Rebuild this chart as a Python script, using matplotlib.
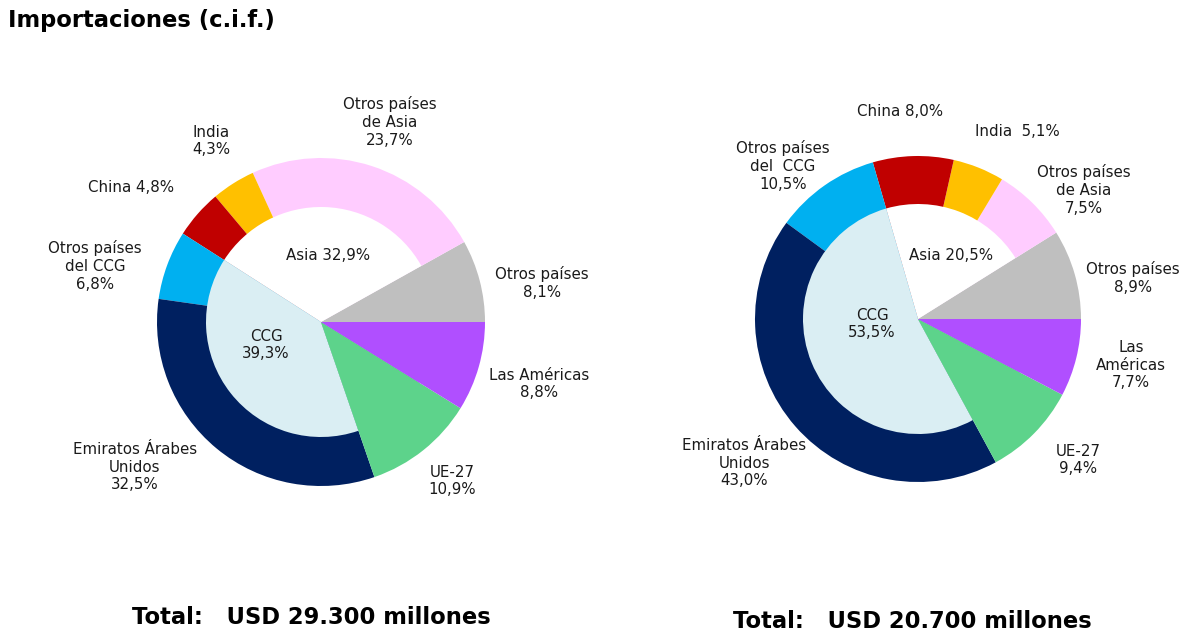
import matplotlib
matplotlib.use("Agg")
import matplotlib.pyplot as plt

# ---------------- data ----------------
categorias = ["Otros países", "Otros países de Asia", "India", "China",
              "Otros países del CCG", "Emiratos Árabes Unidos", "UE-27", "Las Américas"]
valores_izq = [8.1, 23.7, 4.3, 4.8, 6.8, 32.5, 10.9, 8.8]
valores_der = [8.9, 7.5, 5.1, 8.0, 10.5, 43.0, 9.4, 7.7]
asia_izq, ccg_izq = 32.9, 39.3
asia_der, ccg_der = 20.5, 53.5
total_izq = "29.300"
total_der = "20.700"

colores = ["#BFBFBF", "#FFCCFF", "#FFC000", "#C00000",
           "#00B0F0", "#002060", "#5DD38B", "#B04FFF"]
color_asia = "#FFFFFF"
color_ccg = "#DAEEF3"

W, H = 1196, 634
fig = plt.figure(figsize=(W / 100, H / 100), dpi=100)
ax = fig.add_axes([0, 0, 1, 1])

TXT = "#1a1a1a"
FS = 10.8


def pct(v):
    return f"{v:.1f}".replace(".", ",") + "%"


def dona(vals, cx, cy, R, r):
    # outer full pie
    ax.pie(vals, colors=colores, startangle=0, counterclock=True,
           radius=R, center=(cx, H - cy), frame=True,
           wedgeprops=dict(linewidth=0))
    # inner pie: grouped regions (Asia / CCG)
    interior = [vals[0], sum(vals[1:4]), sum(vals[4:6]), vals[6], vals[7]]
    col_int = [colores[0], color_asia, color_ccg, colores[6], colores[7]]
    ax.pie(interior, colors=col_int, startangle=0, counterclock=True,
           radius=r, center=(cx, H - cy), frame=True,
           wedgeprops=dict(linewidth=0))


def t(x, y, s, **kw):
    ax.text(x, H - y, s, ha="center", va="center", fontsize=FS, color=TXT,
            linespacing=1.22, **kw)


dona(valores_izq, 321, 322, 164, 115)
dona(valores_der, 918, 319, 163, 115)

ax.set_xlim(0, W)
ax.set_ylim(0, H)
ax.set_aspect("equal")
ax.axis("off")

v = valores_izq
t(390, 122, "Otros países\nde Asia\n" + pct(v[1]))
t(211, 141, "India\n" + pct(v[2]))
t(131, 188, "China " + pct(v[3]))
t(95, 266, "Otros países\ndel CCG\n" + pct(v[4]))
t(328, 256, "Asia " + pct(asia_izq))
t(266, 345, "CCG\n" + pct(ccg_izq))
t(542, 283, "Otros países\n" + pct(v[0]))
t(539, 384, "Las Américas\n" + pct(v[7]))
t(135, 467, "Emiratos Árabes\nUnidos\n" + pct(v[5]))
t(452, 481, "UE-27\n" + pct(v[6]))

v = valores_der
t(900, 112, "China " + pct(v[3]))
t(1017, 131, "India  " + pct(v[2]))
t(783, 166, "Otros países\ndel  CCG\n" + pct(v[4]))
t(1084, 190, "Otros países\nde Asia\n" + pct(v[1]))
t(951, 255, "Asia " + pct(asia_der))
t(872, 324, "CCG\n" + pct(ccg_der))
t(1133, 278, "Otros países\n" + pct(v[0]))
t(1131, 365, "Las\nAméricas\n" + pct(v[7]))
t(744, 463, "Emiratos Árabes\nUnidos\n" + pct(v[5]))
t(1078, 460, "UE-27\n" + pct(v[6]))

ax.text(8, H - 21, "Importaciones (c.i.f.)", ha="left", va="center",
        fontsize=16.3, fontweight="bold", color="black")
ax.text(311, H - 618, f"Total:   USD {total_izq} millones", ha="center",
        va="center", fontsize=16.3, fontweight="bold", color="black")
ax.text(912, H - 621, f"Total:   USD {total_der} millones", ha="center",
        va="center", fontsize=16.3, fontweight="bold", color="black")

fig.savefig("out.png", dpi=100)
